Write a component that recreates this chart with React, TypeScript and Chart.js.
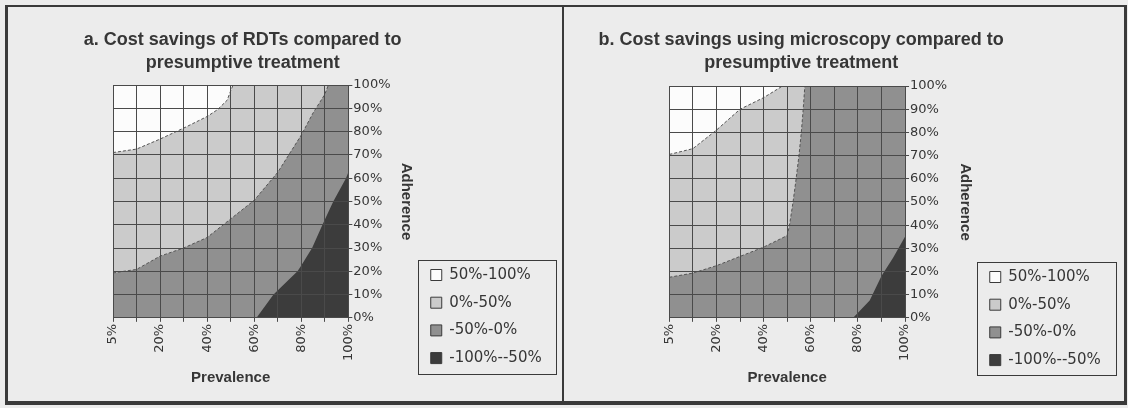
import React, { useEffect, useRef } from 'react';
import { Chart, registerables } from 'chart.js';

Chart.register(...registerables);

// ---------- data ----------
const PREVALENCE = ['5%', '10%', '20%', '30%', '40%', '50%', '60%', '70%', '80%', '90%', '100%'];
const ADHERENCE_MIN = 0;
const ADHERENCE_MAX = 100;
const ADHERENCE_STEP = 10;
const LEGEND_LABELS = ['50%-100%', '0%-50%', '-50%-0%', '-100%--50%'];

const TITLE_A = ['a. Cost savings of RDTs compared to', 'presumptive treatment'];
const TITLE_B = ['b. Cost savings using microscopy compared to', 'presumptive treatment'];
const X_TITLE = 'Prevalence';
const Y_TITLE = 'Adherence';

// Contour boundaries: position along the prevalence axis (category index) and adherence (%)
// Panel a – RDTs
const A_UPPER_POS = [0, 1, 2, 3, 4, 4.45, 4.85, 5.0, 5.1, 10];
const A_UPPER_ADH = [71, 72.5, 76.8, 81.5, 86.5, 89.5, 93.5, 97.5, 100, 100];
const A_MIDDLE_POS = [0, 1, 2, 3, 4, 5, 6, 7, 8, 8.5, 9, 9.15, 10];
const A_MIDDLE_ADH = [19.3, 20.8, 26.5, 30, 34.5, 42.5, 50.5, 62.5, 78.5, 88, 96, 100, 100];
const A_LOWER_POS = [0, 6.1, 6.82, 7.84, 8, 8.46, 8.9, 9.36, 9.9, 10];
const A_LOWER_ADH = [0, 0, 10, 20, 22.5, 30, 40, 50, 60, 62.5];

// Panel b – microscopy
const B_UPPER_POS = [0, 1, 2, 3, 3.5, 4, 4.8, 10];
const B_UPPER_ADH = [70.5, 73, 81, 90, 92.5, 95, 100, 100];
const B_MIDDLE_POS = [0, 1, 2, 3, 4, 5, 5.1, 5.25, 5.38, 5.5, 5.6, 5.68, 5.75, 10];
const B_MIDDLE_ADH = [17.5, 19.3, 22.5, 26.5, 30.5, 35.5, 40, 50, 60, 70, 80, 90, 100, 100];
const B_LOWER_POS = [0, 7.8, 8.5, 9, 9.5, 10];
const B_LOWER_ADH = [0, 0, 7.5, 18, 26, 35];

// ---------- styles ----------
const TEXT = '#363636';
const GRID = '#4a4a4a';
const FRAME = '#3a3a3a';
const PAGE_BG = '#ececec';
const FILLS = ['#fcfcfc', '#cbcbcb', '#909090', '#3c3c3c'];
const BOUNDARY_LINE = '#555555';
const SANS = "'DejaVu Sans', sans-serif";
const BOLD = "'Liberation Sans', Arial, sans-serif";
const CANVAS_H = 393;
const LEGEND_PAD = 12.7;

type Panel = {
  title: string[];
  upper: number[][];
  middle: number[][];
  lower: number[][];
  left: number;
  width: number;
  pad: { left: number; right: number; top: number; bottom: number };
  titlePad: { top: number; bottom: number };
  yTitlePadBottom: number;
  titleOffset: number;
  legendBox: { dx: number; top: number; width: number; height: number };
};

const PANELS: Panel[] = [
  {
    title: TITLE_A,
    upper: [A_UPPER_POS, A_UPPER_ADH],
    middle: [A_MIDDLE_POS, A_MIDDLE_ADH],
    lower: [A_LOWER_POS, A_LOWER_ADH],
    left: 8,
    width: 554,
    pad: { left: 105, right: 143, top: 0, bottom: 12 },
    titlePad: { top: 20.5, bottom: 10.5 },
    yTitlePadBottom: 5.5,
    titleOffset: 12,
    legendBox: { dx: 69.7, top: 252, width: 138, height: 114 },
  },
  {
    title: TITLE_B,
    upper: [B_UPPER_POS, B_UPPER_ADH],
    middle: [B_MIDDLE_POS, B_MIDDLE_ADH],
    lower: [B_LOWER_POS, B_LOWER_ADH],
    left: 564,
    width: 560,
    pad: { left: 105.3, right: 145.8, top: 0, bottom: 12 },
    titlePad: { top: 20.5, bottom: 11.5 },
    yTitlePadBottom: 8,
    titleOffset: 14,
    legendBox: { dx: 72, top: 254, width: 139, height: 113 },
  },
];

const toPoints = (pos: number[], adh: number[]) => pos.map((x, i) => ({ x, y: adh[i] }));

// centre the chart title a little right of the plot centre, using the full canvas width
const titleShift = {
  id: 'titleShift',
  afterLayout(chart: any, _args: any, opts: any) {
    const t = chart.titleBlock;
    if (!t) return;
    const w = chart.width;
    const c = (chart.chartArea.left + chart.chartArea.right) / 2 + (opts.offset || 0);
    t.left = c - w / 2;
    t.right = c + w / 2;
    t.width = w;
  },
};

// place the legend in a framed box to the right of the y axis
const legendBox = {
  id: 'legendBox',
  afterUpdate(chart: any, _args: any, opts: any) {
    const lg = chart.legend;
    if (!lg || !chart.chartArea) return;
    const left = chart.chartArea.right + opts.dx;
    lg.left = left;
    lg.right = left + opts.width;
    lg.width = opts.width;
    lg.top = opts.top + 7.5 - LEGEND_PAD;
    lg.bottom = opts.top + opts.height + 60;
    lg.height = lg.bottom - lg.top;
  },
  afterDraw(chart: any, _args: any, opts: any) {
    const ctx = chart.ctx;
    const left = Math.round(chart.chartArea.right + opts.dx) + 0.5;
    const top = Math.round(opts.top) + 0.5;
    ctx.save();
    ctx.strokeStyle = FRAME;
    ctx.lineWidth = 1;
    ctx.strokeRect(left, top, Math.round(opts.width), Math.round(opts.height));
    ctx.restore();
  },
};

function buildConfig(p: Panel): any {
  const topLine = [
    { x: 0, y: ADHERENCE_MAX },
    { x: PREVALENCE.length - 1, y: ADHERENCE_MAX },
  ];
  const base = { type: 'line', pointRadius: 0, tension: 0, fill: 'origin' };
  const datasets = [
    { ...base, label: LEGEND_LABELS[0], data: topLine, backgroundColor: FILLS[0], borderWidth: 0, order: 4 },
    {
      ...base,
      label: LEGEND_LABELS[1],
      data: toPoints(p.upper[0], p.upper[1]),
      backgroundColor: FILLS[1],
      borderColor: BOUNDARY_LINE,
      borderWidth: 1,
      borderDash: [3, 2],
      order: 3,
    },
    {
      ...base,
      label: LEGEND_LABELS[2],
      data: toPoints(p.middle[0], p.middle[1]),
      backgroundColor: FILLS[2],
      borderColor: BOUNDARY_LINE,
      borderWidth: 1,
      borderDash: [3, 2],
      order: 2,
    },
    {
      ...base,
      label: LEGEND_LABELS[3],
      data: toPoints(p.lower[0], p.lower[1]),
      backgroundColor: FILLS[3],
      borderWidth: 0,
      order: 1,
    },
  ];

  const gridOpts = { color: GRID, lineWidth: 1, tickLength: 4, drawTicks: true, z: 1 };
  const borderOpts = { color: GRID, width: 1, z: 1 };

  return {
    type: 'line',
    data: { datasets },
    plugins: [titleShift, legendBox],
    options: {
      animation: false,
      responsive: false,
      events: [],
      layout: { padding: p.pad },
      scales: {
        x: {
          type: 'linear',
          position: 'bottom',
          min: 0,
          max: PREVALENCE.length - 1,
          grid: gridOpts,
          border: borderOpts,
          ticks: {
            stepSize: 1,
            autoSkip: false,
            minRotation: 90,
            maxRotation: 90,
            padding: 2,
            color: TEXT,
            font: { family: SANS, size: 13 },
            callback: (v: number) => {
              const i = Math.round(v);
              return i % 2 === 0 ? PREVALENCE[i] : '';
            },
          },
          title: {
            display: true,
            text: X_TITLE,
            color: TEXT,
            font: { family: BOLD, size: 15, weight: 'bold', lineHeight: 1.2 },
            padding: { top: 6, bottom: 2 },
          },
        },
        y: {
          type: 'linear',
          position: 'right',
          min: ADHERENCE_MIN,
          max: ADHERENCE_MAX,
          grid: gridOpts,
          border: borderOpts,
          ticks: {
            stepSize: ADHERENCE_STEP,
            padding: 1,
            color: TEXT,
            font: { family: SANS, size: 13 },
            callback: (v: number) => `${v}%`,
          },
          title: {
            display: true,
            text: Y_TITLE,
            color: TEXT,
            font: { family: BOLD, size: 15, weight: 'bold', lineHeight: 1.2 },
            padding: { top: 4, bottom: p.yTitlePadBottom },
          },
        },
      },
      plugins: {
        titleShift: { offset: p.titleOffset },
        legendBox: p.legendBox,
        tooltip: { enabled: false },
        title: {
          display: true,
          text: p.title,
          color: TEXT,
          font: { family: BOLD, size: 18, weight: 'bold', lineHeight: 1.28 },
          padding: p.titlePad,
          fullSize: true,
        },
        legend: {
          display: true,
          position: 'chartArea',
          align: 'start',
          labels: {
            boxWidth: 11,
            boxHeight: 11,
            padding: LEGEND_PAD,
            color: TEXT,
            font: { family: SANS, size: 15 },
            generateLabels: () =>
              LEGEND_LABELS.map((text, i) => ({
                text,
                fillStyle: FILLS[i],
                strokeStyle: FRAME,
                lineWidth: 1,
                hidden: false,
                datasetIndex: i,
                fontColor: TEXT,
              })),
          },
        },
      },
    },
  };
}

function PanelChart({ panel }: { panel: Panel }) {
  const ref = useRef<HTMLCanvasElement>(null);
  useEffect(() => {
    if (!ref.current) return;
    const chart = new Chart(ref.current, buildConfig(panel));
    return () => chart.destroy();
  }, [panel]);
  return (
    <canvas
      ref={ref}
      width={panel.width}
      height={CANVAS_H}
      style={{ position: 'absolute', left: panel.left, top: 8, width: panel.width, height: CANVAS_H }}
    />
  );
}

export default function App() {
  return (
    <div
      style={{
        position: 'fixed',
        left: 0,
        top: 0,
        width: 1128,
        height: 408,
        background: PAGE_BG,
        overflow: 'hidden',
      }}
    >
      <div
        style={{
          position: 'absolute',
          left: 5,
          top: 5,
          width: 1122,
          height: 400,
          boxSizing: 'border-box',
          borderStyle: 'solid',
          borderColor: FRAME,
          borderWidth: '2px 3px 4px 3px',
        }}
      />
      <div style={{ position: 'absolute', left: 562, top: 5, width: 2, height: 400, background: FRAME }} />
      {PANELS.map((p, i) => (
        <PanelChart key={i} panel={p} />
      ))}
    </div>
  );
}
